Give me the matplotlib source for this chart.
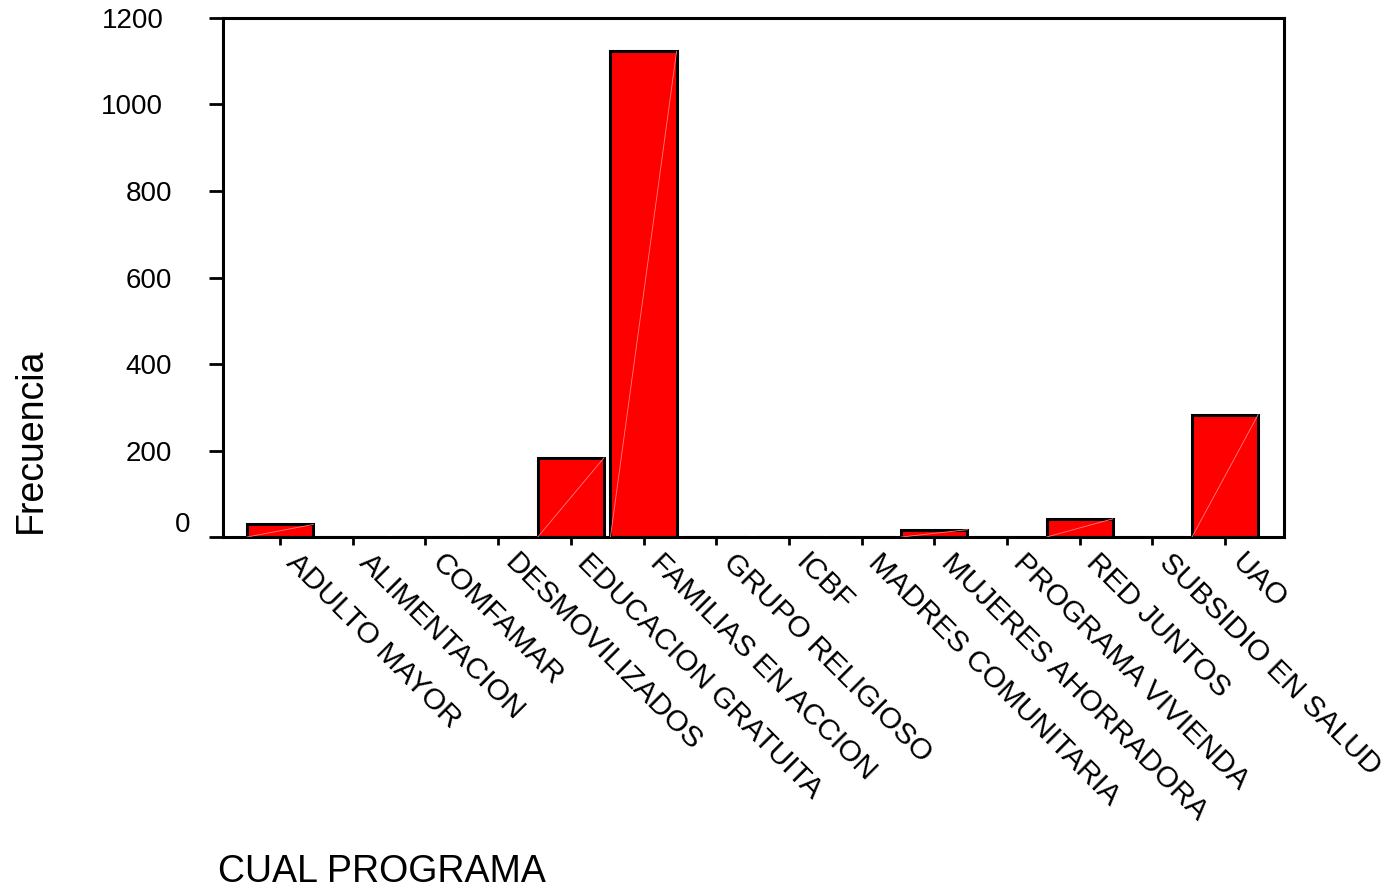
import matplotlib
matplotlib.use('Agg')
import matplotlib.pyplot as plt
from matplotlib.transforms import ScaledTranslation

plt.rcParams['font.family'] = ['Liberation Sans', 'DejaVu Sans']

programas = ['ADULTO MAYOR', 'ALIMENTACION', 'COMFAMAR', 'DESMOVILIZADOS',
             'EDUCACION GRATUITA', 'FAMILIAS EN ACCION', 'GRUPO RELIGIOSO',
             'ICBF', 'MADRES COMUNITARIA', 'MUJERES AHORRADORA',
             'PROGRAMA VIVIENDA', 'RED JUNTOS', 'SUBSIDIO EN SALUD', 'UAO']
frecuencia = [29, 0, 0, 0, 183, 1123, 0, 0, 0, 17, 0, 42, 0, 283]
yticks = [0, 200, 400, 600, 800, 1000, 1200]

fig = plt.figure(figsize=(13.95, 8.9), dpi=100)
ax = fig.add_axes([0.1599, 0.3966, 0.7605, 0.5832])

x = list(range(len(programas)))
ancho = 0.91
ax.bar(x, frecuencia, width=ancho, color='#ff0000', edgecolor='black',
       linewidth=2.2, zorder=2)
# linea clara diagonal dentro de cada barra
for xi, v in zip(x, frecuencia):
    if v > 0:
        ax.plot([xi - ancho / 2, xi + ancho / 2], [0, v], color='#ff8080',
                lw=0.6, zorder=3)

ax.set_xlim(-0.784, 13.81)
ax.set_ylim(0, 1200)

for s in ax.spines.values():
    s.set_linewidth(2.2)

ax.set_yticks(yticks)
ax.set_yticklabels([str(t) for t in yticks], fontsize=20)
ax.tick_params(axis='y', length=10, width=2, pad=33)
ax.set_xticks(x)
ax.set_xticklabels(programas, fontsize=21.5, rotation=-45, ha='left',
                   va='top', rotation_mode='anchor')
ax.tick_params(axis='x', length=6, width=2, pad=2)

for lab in ax.get_xticklabels():
    lab.set_transform(lab.get_transform() +
                      ScaledTranslation(0.21, 0, fig.dpi_scale_trans))

for lab in ax.get_yticklabels():
    n = len(lab.get_text())
    dx = 0.09 * (4 - n)
    dy = 0.15 if lab.get_text() == '0' else 0
    lab.set_transform(lab.get_transform() +
                      ScaledTranslation(dx, dy, fig.dpi_scale_trans))

fig.text(31 / 1395, 1 - 440 / 890, 'Frecuencia', rotation=90, fontsize=27,
         ha='center', va='center')
fig.text(218 / 1395, 1 - 872 / 890, 'CUAL PROGRAMA', fontsize=27,
         ha='left', va='center')

fig.savefig('out.png', dpi=100)
